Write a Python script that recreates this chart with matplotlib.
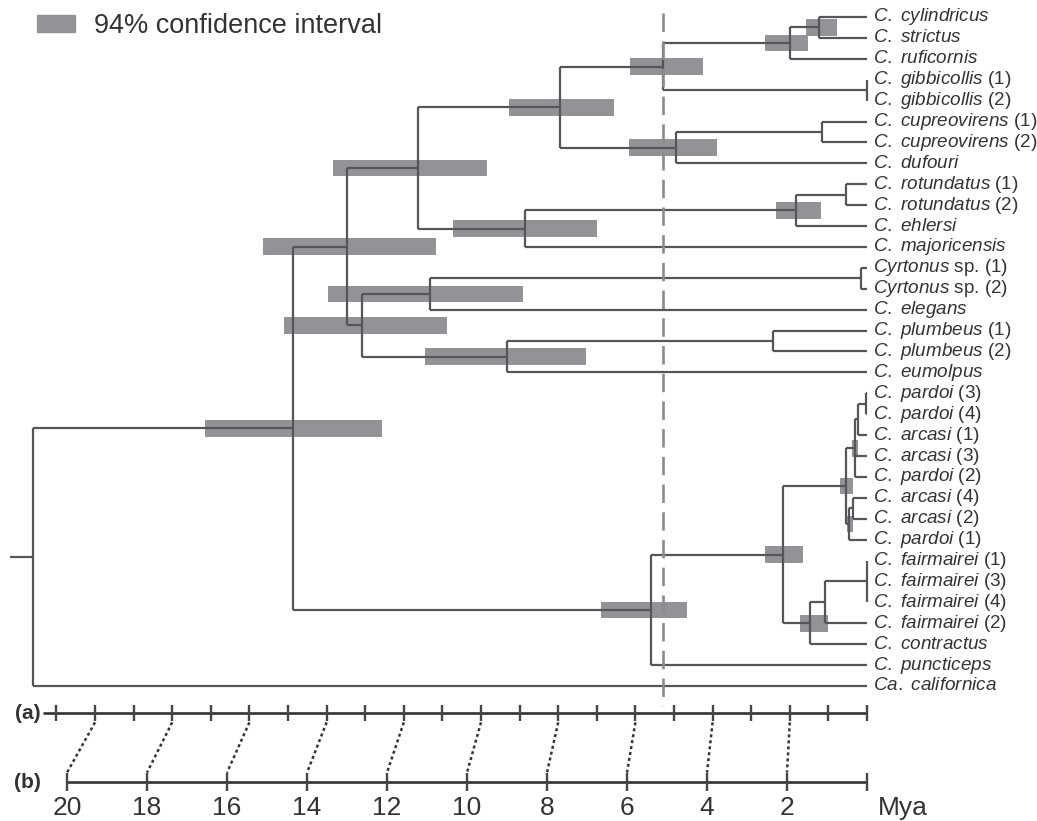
import numpy as np
import matplotlib
matplotlib.use('Agg')
import matplotlib.pyplot as plt
from matplotlib.patches import Patch

plt.rcParams['font.family'] = ['Liberation Sans', 'DejaVu Sans']
plt.rcParams['mathtext.fontset'] = 'custom'
plt.rcParams['mathtext.it'] = 'Liberation Sans:italic'
plt.rcParams['mathtext.rm'] = 'Liberation Sans'

# tips, top to bottom (italic part + plain suffix)
tip_names = ['C. cylindricus', 'C. strictus', 'C. ruficornis', 'C. gibbicollis', 'C. gibbicollis',
             'C. cupreovirens', 'C. cupreovirens', 'C. dufouri', 'C. rotundatus', 'C. rotundatus',
             'C. ehlersi', 'C. majoricensis', 'Cyrtonus', 'Cyrtonus', 'C. elegans',
             'C. plumbeus', 'C. plumbeus', 'C. eumolpus', 'C. pardoi', 'C. pardoi',
             'C. arcasi', 'C. arcasi', 'C. pardoi', 'C. arcasi', 'C. arcasi', 'C. pardoi',
             'C. fairmairei', 'C. fairmairei', 'C. fairmairei', 'C. fairmairei',
             'C. contractus', 'C. puncticeps', 'Ca. californica']
tip_suffix = ['', '', '', ' (1)', ' (2)', ' (1)', ' (2)', '', ' (1)', ' (2)', '', '',
              ' sp. (1)', ' sp. (2)', '', ' (1)', ' (2)', '', ' (3)', ' (4)', ' (1)', ' (3)',
              ' (2)', ' (4)', ' (2)', ' (1)', ' (1)', ' (3)', ' (4)', ' (2)', '', '', '']

# internal nodes (children listed before parents)
node_ids = ['J', 'I', 'gib', 'H', 'cup', 'K', 'G', 'rot', 'M', 'L', 'F', 'cyr', 'D', 'plu', 'E',
            'C', 'B', 'n1', 'n2', 'n3', 'R1', 'R', 'P', 'f3', 'T', 'U', 'O', 'N', 'A', 'root']
node_children = [[0, 1], ['J', 2], [3, 4], ['I', 'gib'], [5, 6], ['cup', 7], ['H', 'K'],
                 [8, 9], ['rot', 10], ['M', 11], ['G', 'L'], [12, 13], ['cyr', 14], [15, 16],
                 ['plu', 17], ['D', 'E'], ['F', 'C'], [18, 19], ['n1', 20], ['n2', 21, 22],
                 [23, 24], ['R1', 25], ['n3', 'R'], [26, 27, 28], ['f3', 29], ['T', 30],
                 ['P', 'U'], ['O', 31], ['B', 'N'], ['A', 32]]
node_age = [1.24, 1.99, 0.0, 5.28, 1.17, 4.95, 7.95, 0.54, 1.84, 8.86, 11.63, 0.16, 11.32, 2.44,
            9.33, 13.08, 13.47, 0.03, 0.23, 0.32, 0.36, 0.47, 0.54, 0.0, 1.09, 1.48, 2.18, 5.60,
            14.87, 21.6]
nan = np.nan
ci_low = [0.78, 1.53, nan, 4.25, nan, 3.89, 6.55, nan, 1.19, 7.00, 9.84, nan, 8.91, nan, 7.28,
          10.88, 11.17, nan, nan, 0.23, nan, 0.36, 0.36, nan, nan, 1.01, 1.66, 4.66, 12.56, nan]
ci_high = [1.58, 2.64, nan, 6.14, nan, 6.17, 9.27, nan, 2.36, 10.73, 13.83, nan, 13.96, nan, 11.45,
           15.10, 15.65, nan, nan, 0.39, nan, 0.52, 0.70, nan, nan, 1.74, 2.64, 6.89, 17.15, nan]
root_stem = 22.2
boundary = 5.28          # dashed line

# time axes
a_ticks = np.arange(0, 22)
b_ticks = np.arange(0, 21, 2)
b_labels = ['', '2', '4', '6', '8', '10', '12', '14', '16', '18', '20']
b_scale = 40 / 38.6      # axis (b) drawn slightly wider than (a)

fig = plt.figure(figsize=(10.37, 8.21), dpi=100)
ax = fig.add_axes([0, 0, 1, 1])
ax.set_xlim(867 / 38.6, -170 / 38.6)
ax.set_ylim((821 - 17) / 20.906, -17 / 20.906)
ax.axis('off')

line_c = '#55555a'
bar_c = '#939397'

# layout
pos_y = {i: float(i) for i in range(len(tip_names))}
pos_x = {i: 0.0 for i in range(len(tip_names))}
for nid, ch, age in zip(node_ids, node_children, node_age):
    ys = [pos_y[c] for c in ch]
    pos_y[nid] = (min(ys) + max(ys)) / 2
    pos_x[nid] = age

# CI bars
ny = np.array([pos_y[n] for n in node_ids])
lo = np.array(ci_low)
hi = np.array(ci_high)
ok = ~np.isnan(lo)
ax.barh(ny[ok], hi[ok] - lo[ok], left=lo[ok], height=0.8, color=bar_c, zorder=1)

# branches
for nid, ch, age in zip(node_ids, node_children, node_age):
    ys = [pos_y[c] for c in ch]
    ax.vlines(age, min(ys), max(ys), color=line_c, lw=1.6, zorder=2)
    for c in ch:
        ax.hlines(pos_y[c], pos_x[c], age, color=line_c, lw=1.6, zorder=2)
ax.hlines(pos_y['root'], node_age[-1], root_stem, color=line_c, lw=1.6, zorder=2)

# tip labels
for i, (nm, sf) in enumerate(zip(tip_names, tip_suffix)):
    lab = '$\\mathit{' + nm.replace(' ', '\\ ') + '}$' + sf
    ax.text(-0.16, i, lab, fontsize=13.6, va='center', ha='left', color='#333333')

# dashed boundary
ax.vlines(boundary, -0.2, 32.96, color='#8c8c8c', lw=1.9, linestyles=(0, (7, 3.5)), zorder=3)

# axis (a)
ya = (713 - 17) / 20.906
yb = (782 - 17) / 20.906
ax.hlines(ya, 21.35, 0, color='#333333', lw=1.9)
ax.vlines(a_ticks, ya - 0.4, ya + 0.4, color='#444444', lw=1.7)
ax.text(21.74, ya, '(a)', fontsize=15, fontweight='bold', ha='center', va='center', color='#333333')

# axis (b)
bx = b_ticks * b_scale
ax.hlines(yb, bx.max(), 0, color='#333333', lw=1.9)
ax.vlines(bx, yb - 0.43, yb + 0.43, color='#444444', lw=1.7)
ax.text(21.74, yb, '(b)', fontsize=15, fontweight='bold', ha='center', va='center', color='#333333')
for x, t in zip(bx, b_labels):
    ax.text(x, (808 - 17) / 20.906, t, fontsize=19, ha='center', va='center', color='#333333')
ax.text(-0.285, (808 - 17) / 20.906, 'Mya', fontsize=19, ha='left', va='center', color='#333333')

# dotted links between (a) and (b)
for t in b_ticks[1:]:
    ax.plot([t, t * b_scale], [ya + 0.45, yb - 0.45], color='#333333', lw=1.8,
            ls=(0, (1.2, 1.2)))

# legend
ax.legend(handles=[Patch(color=bar_c, label='94% confidence interval')],
          loc='center left', bbox_to_anchor=(37 / 1037, 1 - 26 / 821), frameon=False,
          borderpad=0, borderaxespad=0, handlelength=1.42, handleheight=0.64,
          handletextpad=0.7, fontsize=19.5, labelcolor='#333333')

fig.savefig('out.png', dpi=100)
